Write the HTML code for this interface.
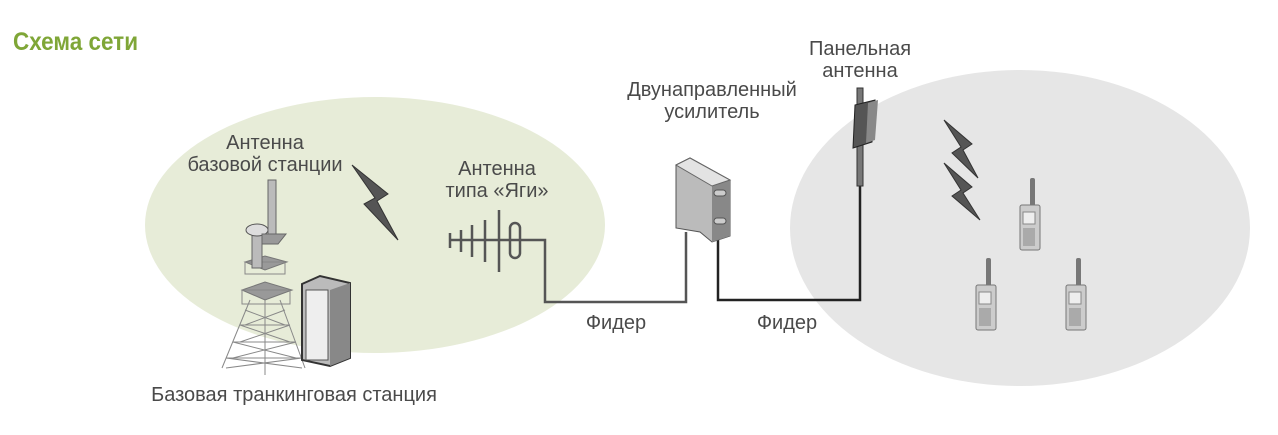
<!DOCTYPE html>
<html><head><meta charset="utf-8"><style>
html,body{margin:0;padding:0;background:#fff;}
svg{display:block;}
text{font-family:"Liberation Sans",sans-serif;fill:#4a4a4a;font-size:20px;}
</style></head><body>
<svg width="1278" height="435" viewBox="0 0 1278 435" xmlns="http://www.w3.org/2000/svg">
<ellipse cx="375" cy="225" rx="230" ry="128" fill="#e7ecd8"/>
<ellipse cx="1020" cy="228" rx="230" ry="158" fill="#e6e6e6"/>
<text x="13" y="50" style="font-size:25px;font-weight:bold;fill:#7fa637" transform="scale(0.9,1)" transform-origin="13 50">Схема сети</text>

<text x="265" y="149" text-anchor="middle">Антенна</text>
<text x="265" y="171" text-anchor="middle">базовой станции</text>
<text x="497" y="175" text-anchor="middle">Антенна</text>
<text x="497" y="197" text-anchor="middle">типа «Яги»</text>
<text x="712" y="96" text-anchor="middle">Двунаправленный</text>
<text x="712" y="118" text-anchor="middle">усилитель</text>
<text x="860" y="55" text-anchor="middle">Панельная</text>
<text x="860" y="77" text-anchor="middle">антенна</text>
<text x="616" y="329" text-anchor="middle">Фидер</text>
<text x="787" y="329" text-anchor="middle">Фидер</text>
<text x="294" y="401" text-anchor="middle">Базовая транкинговая станция</text>

<polyline points="450,240 545,240 545,302 686,302 686,232" fill="none" stroke="#555" stroke-width="2.5"/>
<polyline points="718,232 718,300 860,300 860,185" fill="none" stroke="#222" stroke-width="2.5"/>

<g stroke="#555" stroke-width="2.5" fill="none">
<line x1="450" y1="233" x2="450" y2="248"/>
<line x1="461" y1="230" x2="461" y2="252"/>
<line x1="472" y1="225" x2="472" y2="257"/>
<line x1="485" y1="220" x2="485" y2="262"/>
<line x1="499" y1="210" x2="499" y2="272"/>
<rect x="510" y="223" width="10" height="35" rx="5"/>
</g>

<g fill="#555" stroke="#333" stroke-width="1">
<polygon points="352,165 388,194 377,201 398,240 364,204 375,198"/>
<polygon points="944,120 972,144 963,150 978,178 952,153 961,147"/>
<polygon points="944,163 972,187 963,193 980,220 952,196 961,190"/>
</g>

<g stroke="#888" stroke-width="1" fill="none">
<line x1="250" y1="300" x2="222" y2="368"/>
<line x1="280" y1="300" x2="305" y2="368"/>
<line x1="265" y1="300" x2="265" y2="375"/>
<path d="M245,310 L285,325 M285,310 L245,325 M240,325 L290,342 M290,325 L240,342 M233,342 L296,358 M296,342 L233,358 M226,358 L302,368 M302,358 L226,368"/>
<line x1="240" y1="325" x2="290" y2="325"/><line x1="233" y1="342" x2="296" y2="342"/><line x1="226" y1="358" x2="302" y2="358"/>
</g>
<polygon points="245,262 265,256 287,262 265,270" fill="#999" stroke="#777"/>
<polygon points="242,290 265,282 292,290 265,300" fill="#999" stroke="#777"/>
<rect x="245" y="262" width="40" height="12" fill="none" stroke="#888"/>
<rect x="242" y="290" width="48" height="14" fill="none" stroke="#888"/>
<rect x="252" y="232" width="10" height="36" fill="#bbb" stroke="#666"/>
<ellipse cx="257" cy="230" rx="11" ry="6" fill="#ddd" stroke="#555"/>
<rect x="268" y="180" width="8" height="58" fill="#bbb" stroke="#666"/>
<polygon points="262,234 286,234 278,244 262,244" fill="#999" stroke="#666"/>
<polygon points="302,284 320,276 350,283 350,358 330,366 302,360" fill="#bbb" stroke="#333" stroke-width="2"/>
<polygon points="330,290 350,283 350,358 330,366" fill="#888"/>
<rect x="306" y="290" width="22" height="70" fill="#eee" stroke="#555"/>

<polygon points="676,165 690,158 730,180 730,236 712,242 700,232 676,228" fill="#bbb" stroke="#555"/>
<polygon points="712,186 730,180 730,236 712,242" fill="#888"/>
<polygon points="676,165 690,158 730,180 712,186" fill="#e3e3e3" stroke="#666"/>
<rect x="714" y="190" width="12" height="6" rx="3" fill="#ccc" stroke="#555"/>
<rect x="714" y="218" width="12" height="6" rx="3" fill="#ccc" stroke="#555"/>

<rect x="857" y="88" width="6" height="98" fill="#777" stroke="#333"/>
<polygon points="855,105 875,100 872,142 853,148" fill="#555" stroke="#222"/>
<polygon points="868,103 878,100 875,140 866,143" fill="#888"/>

<g id="r">
<rect x="1030" y="178" width="5" height="30" rx="2" fill="#777"/>
<rect x="1020" y="205" width="20" height="45" rx="2" fill="#ccc" stroke="#777"/>
<rect x="1023" y="212" width="12" height="12" fill="#eee" stroke="#888"/>
<rect x="1023" y="228" width="12" height="18" fill="#aaa"/>
</g>
<use href="#r" x="-44" y="80"/>
<use href="#r" x="46" y="80"/>
</svg>
</body></html>
